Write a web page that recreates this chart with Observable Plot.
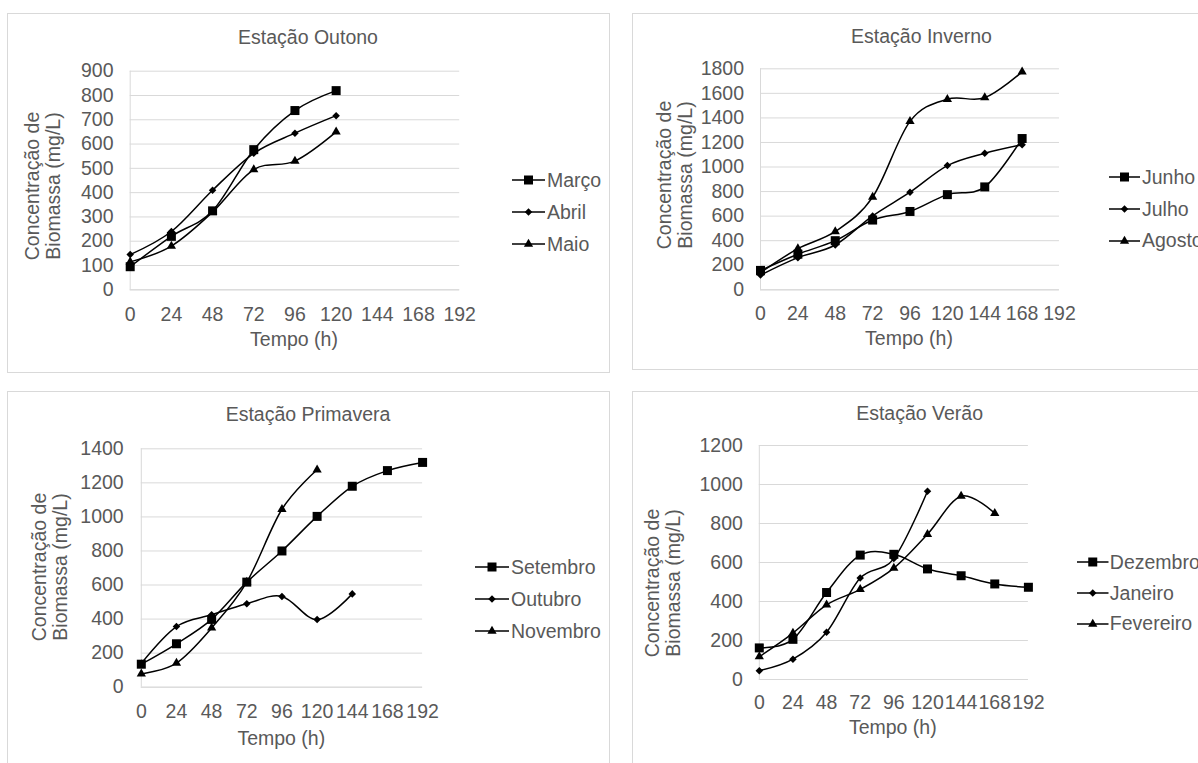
<!DOCTYPE html>
<html><head><meta charset="utf-8">
<script src="https://cdn.jsdelivr.net/npm/d3@7"></script>
<script src="https://cdn.jsdelivr.net/npm/@observablehq/plot@0.6"></script>
<style>
html,body{margin:0;padding:0;background:#fff}
body{width:1198px;height:763px;overflow:hidden;position:relative;font-family:"Liberation Sans",Arial,sans-serif;color:#595959}
.frame{position:absolute;border:1px solid #d9d9d9;box-sizing:border-box;background:#fff}
.t{position:absolute;white-space:nowrap;font-size:19.5px;line-height:1;color:#595959}
.yl{position:absolute;white-space:nowrap;font-size:19.5px;line-height:21px;text-align:center;color:#595959;transform:translate(-50%,-50%) rotate(-90deg)}
</style></head><body>
<script>
// ---------- DATA ----------
const hours = [0, 24, 48, 72, 96, 120, 144, 168, 192];
const xLabel = "Tempo (h)";
const yLabelLines = ["Concentração de", "Biomassa (mg/L)"];

// Estação Outono
const outonoTitle = "Estação Outono";
const outonoMonths = ["Março", "Abril", "Maio"];
const marco = [95, 220, 325, 577, 738, 820];
const abril = [145, 240, 410, 562, 645, 717];
const maio = [115, 180, 320, 495, 530, 650];
const outonoYTicks = [0, 100, 200, 300, 400, 500, 600, 700, 800, 900];

// Estação Inverno
const invernoTitle = "Estação Inverno";
const invernoMonths = ["Junho", "Julho", "Agosto"];
const junho = [158, 290, 400, 568, 638, 775, 838, 1232];
const julho = [120, 262, 365, 602, 795, 1012, 1112, 1182];
const agosto = [140, 335, 475, 755, 1372, 1552, 1565, 1775];
const invernoYTicks = [0, 200, 400, 600, 800, 1000, 1200, 1400, 1600, 1800];

// Estação Primavera
const primaveraTitle = "Estação Primavera";
const primaveraMonths = ["Setembro", "Outubro", "Novembro"];
const setembro = [135, 255, 398, 617, 800, 1003, 1180, 1272, 1320];
const outubro = [140, 356, 425, 490, 533, 397, 548];
const novembro = [78, 142, 348, 617, 1045, 1277];
const primaveraYTicks = [0, 200, 400, 600, 800, 1000, 1200, 1400];

// Estação Verão
const veraoTitle = "Estação Verão";
const veraoMonths = ["Dezembro", "Janeiro", "Fevereiro"];
const dezembro = [162, 206, 446, 638, 642, 567, 532, 490, 473];
const janeiro = [45, 104, 242, 520, 620, 965];
const fevereiro = [117, 238, 383, 462, 571, 745, 940, 852];
const veraoYTicks = [0, 200, 400, 600, 800, 1000, 1200];

// ---------- STYLE / LAYOUT ----------
const FONT = 19.5;
const symbolTypes = [d3.symbolSquare, d3.symbolDiamond2, d3.symbolTriangle];
const symbolSizes = [81, 36, 37];

const layouts = [
  {left:7, top:13, w:603, h:360, x0:129.7, x1:459.2, y0:289.3, y1:70.7, yPad:16.7, xPad:17,
   title:[308,44], xlab:[294,346.7], ylab:[42.6,186],
   legend:{lineX:512, lineW:33, textX:547, baselines:[187,219,251]}},
  {left:632, top:13, w:600, h:357, x0:760, x1:1059, y0:289.3, y1:68.3, yPad:16.5, xPad:16,
   title:[921.5,43], xlab:[909,345], ylab:[675.1,174.5],
   legend:{lineX:1109, lineW:31, textX:1142, baselines:[184,216,247.5]}},
  {left:7, top:391, w:603, h:400, x0:140.8, x1:422.1, y0:686.7, y1:448.3, yPad:17.6, xPad:16.6,
   title:[308,421.7], xlab:[281.3,745], ylab:[50.2,566.7],
   legend:{lineX:474.6, lineW:34, textX:511, baselines:[574,606,638.3]}},
  {left:632, top:391, w:600, h:400, x0:758.8, x1:1027.9, y0:679, y1:445, yPad:16.4, xPad:16,
   title:[919.6,420], xlab:[892.8,734], ylab:[663,583],
   legend:{lineX:1076.5, lineW:31.5, textX:1109.8, baselines:[569.3,600,630.7]}}
];

const panels = [
  {title: outonoTitle, months: outonoMonths, values: [marco, abril, maio], yTicks: outonoYTicks},
  {title: invernoTitle, months: invernoMonths, values: [junho, julho, agosto], yTicks: invernoYTicks},
  {title: primaveraTitle, months: primaveraMonths, values: [setembro, outubro, novembro], yTicks: primaveraYTicks},
  {title: veraoTitle, months: veraoMonths, values: [dezembro, janeiro, fevereiro], yTicks: veraoYTicks}
];

function txt(x, baseline, s, anchor) {
  const d = document.createElement("div");
  d.className = "t";
  d.textContent = s;
  d.style.left = x + "px";
  d.style.top = (baseline - 16.5) + "px";
  if (anchor === "middle") d.style.transform = "translateX(-50%)";
  document.body.appendChild(d);
}

panels.forEach((p, pi) => {
  const L = layouts[pi];
  const frame = document.createElement("div");
  frame.className = "frame";
  Object.assign(frame.style, {left: L.left + "px", top: L.top + "px", width: L.w + "px", height: L.h + "px"});
  document.body.appendChild(frame);

  const rows = [];
  p.months.forEach((m, si) => p.values[si].forEach((v, i) => rows.push({month: m, hour: hours[i], value: v, s: si})));

  const svgH = (L.y0 - L.top) + 90;
  const yMax = p.yTicks[p.yTicks.length - 1];
  const chart = Plot.plot({
    width: L.w,
    height: svgH,
    marginLeft: L.x0 - L.left,
    marginRight: L.w - (L.x1 - L.left),
    marginTop: L.y1 - L.top,
    marginBottom: svgH - (L.y0 - L.top),
    style: {fontFamily: '"Liberation Sans", Arial, sans-serif', fontSize: FONT + "px", color: "#595959", background: "transparent", overflow: "visible"},
    x: {type: "linear", domain: [0, hours[hours.length - 1]]},
    y: {type: "linear", domain: [0, yMax]},
    marks: [
      Plot.gridY(p.yTicks, {stroke: "#d9d9d9", strokeOpacity: 1, strokeWidth: 1}),
      Plot.ruleX([0], {stroke: "#d9d9d9", strokeWidth: 1}),
      Plot.ruleY([0], {stroke: "#d9d9d9", strokeWidth: 1}),
      Plot.axisX(hours, {tickSize: 0, tickPadding: L.xPad, label: null, fontSize: FONT, tickFormat: d => String(d)}),
      Plot.axisY(p.yTicks, {tickSize: 0, tickPadding: L.yPad, label: null, fontSize: FONT, tickFormat: d => String(d)}),
      Plot.line(rows, {x: "hour", y: "value", z: "month", curve: "cardinal", stroke: "#000", strokeWidth: 1.5}),
      ...symbolTypes.map((sym, si) => Plot.dot(rows, {
        filter: d => d.s === si, x: "hour", y: "value", symbol: sym,
        r: Math.sqrt(symbolSizes[si] / Math.PI), fill: "#000", stroke: "none"
      }))
    ]
  });
  Object.assign(chart.style, {position: "absolute", left: L.left + "px", top: L.top + "px", background: "transparent", maxWidth: "none"});
  document.body.appendChild(chart);

  // title and axis labels
  txt(L.title[0], L.title[1], p.title, "middle");
  txt(L.xlab[0], L.xlab[1], xLabel, "middle");
  const yl = document.createElement("div");
  yl.className = "yl";
  yl.innerHTML = yLabelLines.join("<br>");
  yl.style.left = L.ylab[0] + "px";
  yl.style.top = L.ylab[1] + "px";
  document.body.appendChild(yl);

  // legend
  p.months.forEach((m, si) => {
    const b = L.legend.baselines[si];
    const s = d3.create("svg")
      .attr("width", L.legend.lineW).attr("height", 16)
      .style("position", "absolute")
      .style("left", L.legend.lineX + "px")
      .style("top", (b - 7 - 8) + "px")
      .style("overflow", "visible");
    s.append("line").attr("x1", 0).attr("x2", L.legend.lineW).attr("y1", 8).attr("y2", 8)
      .attr("stroke", "#000").attr("stroke-width", 1.5);
    s.append("path").attr("d", d3.symbol(symbolTypes[si], symbolSizes[si])())
      .attr("transform", `translate(${L.legend.lineW / 2},8)`).attr("fill", "#000");
    document.body.appendChild(s.node());
    txt(L.legend.textX, b, m, "start");
  });
});
</script>
</body></html>
